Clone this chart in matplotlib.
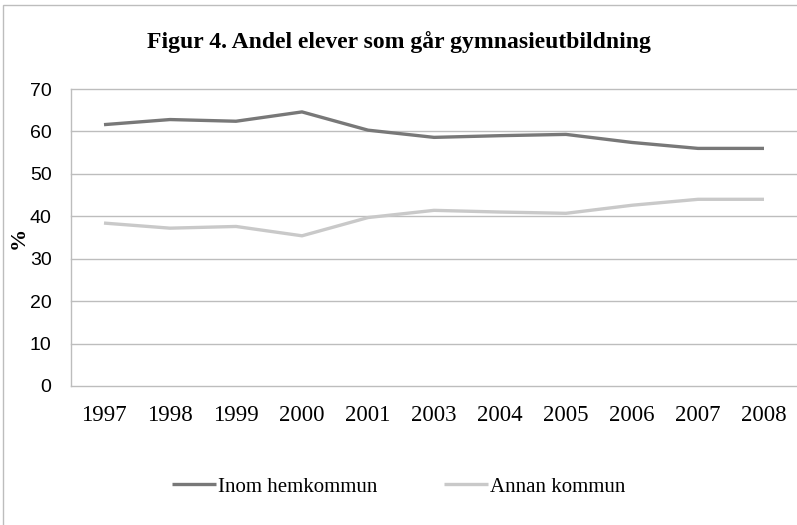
import numpy as np
import matplotlib.pyplot as plt
from matplotlib.patches import Rectangle

# Data
years = ['1997', '1998', '1999', '2000', '2001', '2003', '2004', '2005', '2006', '2007', '2008']
inom = [61.6, 62.8, 62.4, 64.6, 60.3, 58.6, 59.0, 59.3, 57.4, 56.0, 56.0]
annan = [38.4, 37.2, 37.6, 35.4, 39.7, 41.4, 41.0, 40.7, 42.6, 44.0, 44.0]

serif = 'Liberation Serif'
sans = 'Liberation Sans'

fig = plt.figure(figsize=(7.97, 5.25), dpi=100)
ax = fig.add_axes([71/797, 1 - 386/525, 726/797, 297/525])

x = np.arange(len(years))
ax.plot(x, inom, color='#787878', lw=2.4, label='Inom hemkommun', solid_capstyle='butt')
ax.plot(x, annan, color='#c9c9c9', lw=2.4, label='Annan kommun', solid_capstyle='butt')

ax.set_xlim(-0.5, len(years) - 0.5)
ax.set_ylim(0, 70)
ax.set_yticks(range(0, 71, 10))
ax.set_xticks(x)
ax.set_xticklabels(years, fontfamily=serif, fontsize=16.5)
for lab in ax.get_yticklabels():
    lab.set_fontfamily(sans)
    lab.set_fontsize(14)
ax.tick_params(axis='both', length=0)
ax.tick_params(axis='x', pad=14)
ax.tick_params(axis='y', pad=14)

ax.grid(axis='y', color='#bdbdbd', lw=1)
for gl in ax.get_ygridlines():
    gl.set_clip_on(False)
ax.set_axisbelow(True)
for s in ['top', 'right', 'bottom']:
    ax.spines[s].set_visible(False)
ax.spines['left'].set_color('#bdbdbd')
ax.spines['left'].set_linewidth(1)

ax.set_ylabel('%', fontfamily=serif, fontsize=16, fontweight='bold')
ax.yaxis.set_label_coords(-0.058, 0.5)

fig.text(0.5, 1 - 42/525, 'Figur 4. Andel elever som går gymnasieutbildning',
         ha='center', va='center', fontfamily=serif, fontsize=17, fontweight='bold')

fig.legend(loc='center', bbox_to_anchor=(0.5, 1 - 487/525), ncol=2, frameon=False,
           prop={'family': serif, 'size': 15}, handlelength=2.1, handletextpad=0.1,
           columnspacing=3.2)

fig.patches.append(Rectangle((3/797, -0.1), 1.2, 1 - 5/525 + 0.1, transform=fig.transFigure,
                             fill=False, edgecolor='#bdbdbd', lw=1))

fig.savefig('out.png', dpi=100)
